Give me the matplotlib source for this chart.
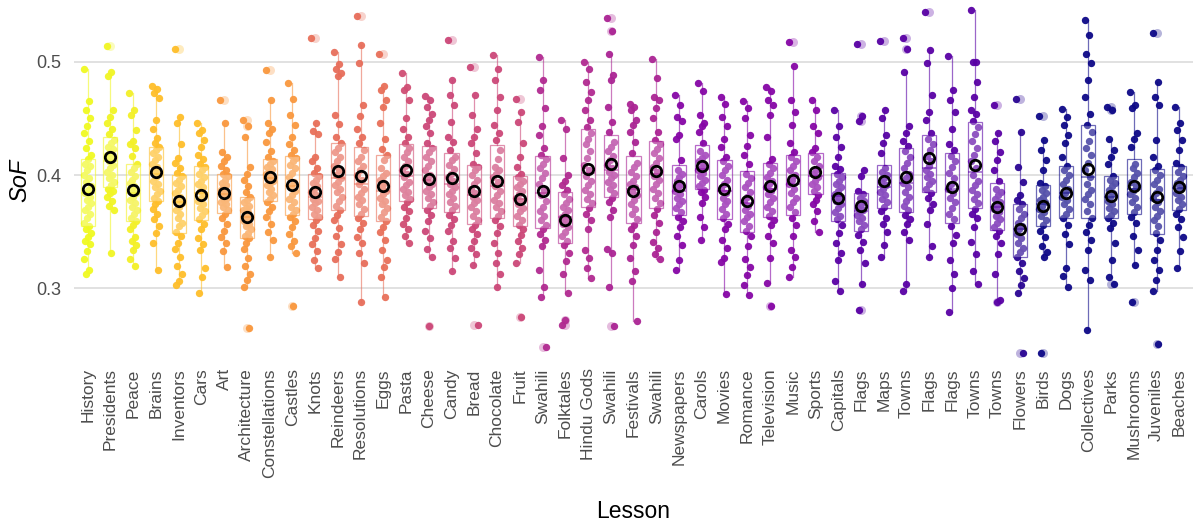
import numpy as np
import matplotlib.pyplot as plt

plt.rcParams["font.family"] = ["Liberation Sans", "DejaVu Sans"]

LESSONS = [
    "History", "Presidents", "Peace", "Brains", "Inventors", "Cars", "Art",
    "Architecture", "Constellations", "Castles", "Knots", "Reindeers",
    "Resolutions", "Eggs", "Pasta", "Cheese", "Candy", "Bread", "Chocolate",
    "Fruit", "Swahili", "Folktales", "Hindu Gods", "Swahili", "Festivals",
    "Swahili", "Newspapers", "Carols", "Movies", "Romance", "Television",
    "Music", "Sports", "Capitals", "Flags", "Maps", "Towns", "Flags", "Flags",
    "Towns", "Towns", "Flowers", "Birds", "Dogs", "Collectives", "Parks",
    "Mushrooms", "Juveniles", "Beaches",
]

# position of each lesson along the plasma palette (1 = yellow, 0 = navy)
COLOR_POS = [
    1.0, 0.99, 0.98, 0.86, 0.86, 0.86, 0.76, 0.76, 0.76, 0.76, 0.64, 0.63,
    0.63, 0.64, 0.52, 0.5, 0.5, 0.5, 0.5, 0.5, 0.4, 0.4, 0.4, 0.38, 0.38,
    0.38, 0.27, 0.27, 0.27, 0.27, 0.27, 0.27, 0.27, 0.16, 0.16, 0.15, 0.16,
    0.16, 0.16, 0.16, 0.16, 0.05, 0.0, 0.0, 0.0, 0.0, 0.0, 0.0, 0.0,
]

# SoF values per lesson, in thousandths
history = [494, 465, 457, 450, 443, 437, 430, 424, 418, 414, 410, 408, 404, 400, 397, 394, 390, 387, 384, 381, 378, 375, 372, 369, 366, 362, 358, 355, 352, 349, 345, 342, 339, 333, 326, 316, 313]
presidents = [514, 491, 487, 457, 451, 446, 441, 436, 431, 428, 425, 423, 420, 418, 415, 412, 409, 406, 403, 400, 397, 394, 391, 388, 386, 384, 381, 377, 373, 369, 331]
peace = [472, 457, 453, 440, 430, 427, 424, 417, 410, 406, 403, 399, 396, 393, 390, 387, 384, 381, 378, 375, 372, 369, 366, 362, 359, 356, 352, 345, 342, 338, 334, 326, 320]
brains = [479, 476, 472, 468, 449, 441, 433, 428, 425, 422, 419, 416, 413, 410, 407, 404, 401, 398, 395, 392, 389, 386, 383, 380, 377, 374, 370, 366, 361, 355, 349, 340, 316]
inventors = [511, 451, 446, 427, 415, 411, 406, 402, 399, 396, 393, 390, 387, 384, 381, 378, 375, 372, 369, 366, 362, 358, 355, 350, 346, 340, 335, 328, 320, 313, 306, 303]
cars = [446, 440, 437, 431, 425, 418, 414, 410, 407, 404, 401, 398, 395, 392, 389, 386, 383, 380, 377, 374, 371, 368, 365, 361, 357, 352, 344, 339, 334, 318, 310, 296]
art = [466, 446, 420, 416, 412, 408, 404, 401, 399, 396, 393, 391, 389, 387, 384, 382, 380, 378, 376, 374, 372, 369, 366, 362, 357, 351, 345, 340, 333, 319]
architecture = [449, 443, 434, 407, 401, 396, 390, 385, 381, 378, 376, 373, 371, 369, 367, 365, 363, 361, 359, 357, 355, 352, 349, 346, 344, 340, 335, 327, 320, 313, 307, 301, 265]
constellations = [493, 466, 446, 441, 437, 429, 421, 416, 412, 410, 407, 405, 403, 401, 399, 397, 395, 393, 391, 388, 385, 382, 379, 376, 372, 368, 363, 357, 350, 343, 328]
castles = [481, 467, 453, 444, 434, 427, 422, 418, 415, 412, 409, 406, 402, 398, 394, 390, 386, 382, 379, 376, 372, 369, 366, 363, 359, 354, 348, 342, 337, 331, 284]
knots = [521, 446, 439, 436, 416, 412, 406, 402, 399, 396, 393, 390, 388, 385, 382, 379, 377, 375, 372, 369, 366, 363, 360, 356, 351, 344, 339, 333, 325, 318]
reindeers = [509, 498, 494, 490, 487, 453, 445, 434, 428, 424, 420, 416, 412, 408, 404, 400, 397, 394, 391, 388, 385, 381, 377, 373, 369, 365, 360, 353, 346, 339, 332, 326, 310]
resolutions = [540, 515, 499, 462, 452, 441, 434, 428, 422, 416, 412, 408, 404, 400, 396, 392, 388, 384, 381, 378, 374, 370, 366, 362, 358, 352, 345, 340, 331, 322, 288]
eggs = [507, 479, 475, 466, 460, 446, 432, 423, 418, 413, 406, 402, 399, 396, 393, 390, 386, 383, 380, 377, 374, 371, 367, 363, 359, 354, 350, 343, 334, 325, 319, 310, 292]
pasta = [490, 478, 475, 466, 450, 441, 434, 428, 424, 420, 416, 412, 408, 404, 401, 398, 394, 391, 388, 385, 382, 379, 376, 372, 368, 362, 357, 352, 346, 340]
cheese = [470, 466, 460, 454, 449, 443, 437, 428, 424, 420, 416, 412, 408, 404, 400, 396, 392, 389, 386, 383, 380, 376, 373, 369, 365, 359, 351, 344, 335, 328, 267]
candy = [519, 484, 471, 462, 447, 434, 429, 422, 416, 413, 409, 405, 401, 398, 395, 392, 389, 386, 383, 380, 376, 373, 369, 365, 361, 356, 351, 342, 336, 327, 315]
bread = [495, 471, 453, 441, 434, 428, 419, 410, 407, 404, 400, 396, 392, 388, 384, 381, 378, 375, 372, 368, 364, 360, 356, 352, 348, 342, 336, 330, 321, 268]
chocolate = [506, 494, 484, 469, 457, 444, 437, 431, 422, 414, 407, 404, 401, 398, 394, 390, 386, 382, 378, 375, 372, 368, 364, 360, 355, 349, 340, 331, 322, 313, 301]
fruit = [467, 456, 447, 428, 416, 407, 401, 398, 395, 392, 389, 386, 383, 380, 377, 374, 371, 368, 364, 360, 356, 352, 347, 342, 336, 330, 322, 275]
swahili_1 = [504, 484, 475, 459, 443, 435, 424, 418, 414, 410, 406, 402, 397, 392, 387, 382, 377, 372, 368, 364, 360, 356, 352, 348, 343, 337, 316, 301, 292, 248]
folktales = [449, 441, 415, 400, 395, 391, 387, 383, 379, 375, 372, 369, 366, 363, 360, 357, 354, 350, 346, 342, 338, 331, 324, 313, 296, 272, 268]
hindu_gods = [500, 494, 482, 473, 466, 457, 449, 442, 437, 432, 427, 421, 415, 409, 404, 399, 395, 391, 387, 383, 379, 375, 371, 366, 360, 352, 334, 327, 318, 309]
swahili_2 = [539, 527, 507, 488, 484, 460, 447, 438, 429, 425, 421, 417, 413, 409, 406, 403, 400, 397, 394, 391, 388, 384, 380, 376, 369, 363, 335, 331, 301, 267]
festivals = [463, 460, 457, 449, 444, 438, 429, 419, 411, 407, 403, 399, 395, 392, 389, 386, 382, 378, 374, 370, 366, 361, 356, 352, 346, 338, 327, 315, 306, 271]
swahili_3 = [502, 486, 469, 466, 459, 450, 438, 431, 427, 423, 419, 415, 411, 407, 403, 399, 396, 392, 388, 384, 380, 375, 370, 365, 358, 350, 341, 336, 330, 326]
newspapers = [471, 462, 451, 448, 435, 432, 413, 404, 401, 398, 395, 392, 389, 386, 383, 380, 377, 374, 371, 367, 363, 359, 354, 346, 338, 325, 316]
carols = [481, 474, 453, 446, 443, 438, 428, 421, 418, 415, 412, 409, 406, 404, 402, 399, 396, 393, 390, 387, 385, 381, 375, 363, 354, 343]
movies = [469, 463, 451, 443, 432, 425, 416, 412, 408, 404, 400, 396, 392, 388, 384, 380, 377, 374, 370, 366, 362, 357, 352, 343, 336, 327, 323, 295]
romance = [465, 459, 450, 435, 426, 418, 410, 401, 397, 393, 389, 385, 381, 377, 373, 369, 366, 363, 359, 355, 351, 346, 337, 326, 319, 312, 303, 294]
television = [478, 474, 466, 462, 453, 434, 414, 410, 406, 402, 398, 395, 392, 389, 386, 383, 380, 376, 372, 368, 364, 360, 356, 346, 340, 327, 305, 284]
music = [517, 496, 466, 456, 444, 428, 420, 416, 412, 408, 404, 400, 396, 392, 388, 384, 380, 376, 372, 367, 362, 356, 346, 334, 328, 319, 310]
sports = [466, 457, 443, 437, 424, 420, 416, 412, 408, 404, 401, 398, 395, 392, 389, 386, 382, 378, 374, 368, 359, 350]
capitals = [457, 443, 434, 425, 416, 408, 405, 401, 398, 395, 392, 389, 386, 383, 380, 377, 374, 371, 367, 364, 361, 356, 349, 340, 331, 325, 306, 298]
flags_1 = [516, 452, 448, 404, 399, 386, 383, 380, 377, 374, 371, 369, 367, 365, 362, 359, 356, 352, 347, 341, 334, 322, 304, 281]
maps = [518, 457, 450, 435, 428, 419, 406, 403, 400, 397, 394, 391, 388, 385, 382, 379, 376, 372, 368, 362, 357, 350, 338, 328]
towns_1 = [521, 511, 491, 443, 437, 430, 426, 421, 416, 411, 406, 401, 397, 393, 389, 385, 381, 377, 373, 369, 365, 361, 357, 350, 343, 304, 298]
flags_2 = [544, 510, 499, 471, 456, 449, 437, 432, 427, 422, 417, 412, 408, 404, 401, 398, 395, 392, 388, 384, 380, 374, 369, 357, 337, 328]
flags_3 = [505, 475, 466, 456, 441, 427, 422, 417, 412, 407, 402, 397, 392, 388, 384, 380, 376, 371, 366, 361, 355, 347, 340, 325, 313, 300, 279]
towns_2 = [546, 500, 500, 482, 469, 457, 454, 448, 442, 436, 430, 424, 418, 412, 406, 400, 395, 391, 387, 383, 379, 375, 370, 366, 362, 354, 341, 330, 315, 304]
towns_3 = [462, 437, 430, 420, 413, 404, 395, 388, 385, 382, 379, 376, 373, 370, 367, 364, 361, 358, 354, 351, 346, 340, 330, 313, 290, 288]
flowers = [467, 438, 407, 394, 382, 378, 374, 370, 366, 362, 358, 355, 352, 348, 344, 340, 336, 332, 328, 322, 315, 309, 303, 296, 243]
birds = [452, 431, 422, 413, 404, 393, 390, 387, 384, 381, 378, 376, 373, 370, 367, 364, 360, 356, 351, 345, 337, 332, 328, 243]
dogs = [458, 451, 444, 435, 428, 416, 408, 404, 400, 396, 392, 388, 384, 381, 378, 374, 370, 366, 362, 356, 348, 339, 318, 311, 301]
collectives = [537, 524, 507, 499, 484, 469, 454, 444, 438, 430, 424, 418, 411, 404, 398, 392, 387, 383, 379, 374, 368, 362, 356, 350, 343, 334, 316, 307, 263]
parks = [460, 457, 432, 422, 416, 410, 399, 396, 393, 390, 387, 384, 381, 377, 374, 371, 368, 365, 362, 358, 353, 340, 325, 310, 304]
mushrooms = [473, 462, 459, 437, 432, 425, 410, 406, 402, 398, 394, 390, 386, 383, 380, 376, 372, 367, 363, 358, 346, 334, 321, 288]
juveniles = [525, 482, 469, 462, 431, 416, 408, 404, 400, 396, 392, 388, 384, 380, 376, 372, 368, 364, 360, 355, 349, 343, 334, 325, 316, 307, 298, 251]
beaches = [460, 446, 440, 431, 422, 411, 407, 403, 399, 396, 393, 390, 387, 384, 381, 378, 374, 370, 366, 361, 354, 345, 333, 318]

SERIES = [
    history, presidents, peace, brains, inventors, cars, art, architecture,
    constellations, castles, knots, reindeers, resolutions, eggs, pasta,
    cheese, candy, bread, chocolate, fruit, swahili_1, folktales, hindu_gods,
    swahili_2, festivals, swahili_3, newspapers, carols, movies, romance,
    television, music, sports, capitals, flags_1, maps, towns_1, flags_2,
    flags_3, towns_2, towns_3, flowers, birds, dogs, collectives, parks,
    mushrooms, juveniles, beaches,
]


def main() -> None:
    data = [np.array(s) / 1000.0 for s in SERIES]
    colors = [plt.cm.plasma(p) for p in COLOR_POS]
    pos = np.arange(len(LESSONS))

    fig = plt.figure(figsize=(11.93, 5.27), dpi=100)
    ax = fig.add_axes([74 / 1193, 1 - 360 / 527, (1193 - 74) / 1193, 360 / 527])

    for i, vals in enumerate(data):
        # deterministic horizontal spread for the jittered dots
        off = ((np.arange(len(vals)) * 0.618034) % 1.0 - 0.5) * 0.34
        ax.scatter(pos[i] + off, vals, s=28, color=colors[i], alpha=0.95,
                   linewidths=0, zorder=2)

    bp = ax.boxplot(data, positions=pos, widths=0.62, patch_artist=True,
                    showfliers=True, manage_ticks=False)
    for i, c in enumerate(colors):
        soft = (c[0], c[1], c[2], 0.6)
        bp["boxes"][i].set(facecolor=(1, 1, 1, 0.3), edgecolor=soft, linewidth=0.9, zorder=3)
        bp["medians"][i].set(color=soft, linewidth=1.1, zorder=4)
        for w in bp["whiskers"][2 * i:2 * i + 2]:
            w.set(color=soft, linewidth=0.9, zorder=3)
        for cap in bp["caps"][2 * i:2 * i + 2]:
            cap.set_visible(False)
        bp["fliers"][i].set(marker="o", markerfacecolor=c, markeredgecolor="none",
                            markersize=6.5, alpha=0.3, zorder=3)

    means = [v.mean() for v in data]
    ax.plot(pos, means, linestyle="none", marker="o", markersize=7.5,
            markerfacecolor="none", markeredgecolor="black", markeredgewidth=2.0,
            zorder=5)

    ax.set_xlim(-0.6, len(LESSONS) - 0.4)
    ax.set_ylim(0.2367, 0.5545)
    ax.set_yticks([0.3, 0.4, 0.5])
    ax.set_yticklabels(["0.3", "0.4", "0.5"])
    ax.set_xticks(pos)
    ax.set_xticklabels(LESSONS, rotation=90, ha="center", va="top")
    ax.tick_params(axis="both", length=0, colors="#4d4d4d", labelsize=12.5)
    ax.tick_params(axis="y", pad=9, labelsize=13)
    ax.tick_params(axis="x", pad=6)
    ax.grid(axis="y", color="#dedede", linewidth=1.3)
    ax.set_axisbelow(True)
    for sp in ax.spines.values():
        sp.set_visible(False)

    fig.text(20 / 1193, 1 - 180 / 527, "SoF", rotation=90, ha="center",
             va="center", fontsize=17, style="italic")
    fig.text(633 / 1193, 1 - 512 / 527, "Lesson", ha="center", va="center",
             fontsize=16.5)

    fig.savefig("out.png", dpi=100, facecolor="white")
    plt.close(fig)


if __name__ == "__main__":
    main()
